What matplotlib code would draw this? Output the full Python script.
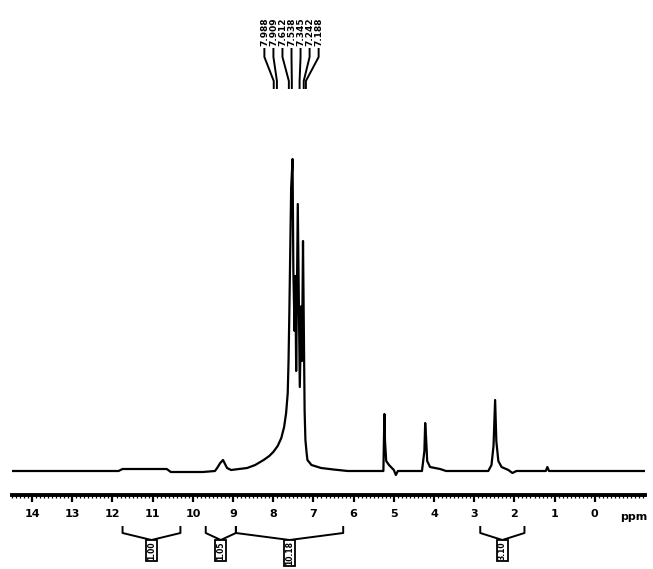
import numpy as np
import matplotlib.pyplot as plt

# Espectro trazado a mano: desplazamiento (ppm) y altura sobre la linea base
ppm = [14.50, 11.85, 11.75, 10.65, 10.55, 9.75, 9.45, 9.38, 9.32, 9.25, 9.20,
       9.15, 9.05, 8.65, 8.45, 8.24, 8.10, 8.00, 7.89, 7.80, 7.73, 7.68,
       7.64, 7.62, 7.60, 7.555, 7.52, 7.50, 7.47, 7.45, 7.43, 7.39, 7.34,
       7.30, 7.285, 7.26, 7.22, 7.20, 7.17, 7.15, 7.05, 6.81, 6.50, 6.15,
       5.26, 5.235, 5.22, 5.19, 5.12, 5.00, 4.95, 4.90, 4.30, 4.24, 4.22,
       4.20, 4.17, 4.10, 3.85, 3.70, 2.65, 2.57, 2.52, 2.48, 2.45, 2.40,
       2.32, 2.15, 2.05, 1.95, 1.22, 1.18, 1.14, -1.25]
intensity = [0, 0, 2, 2, -1, -1, 0, 4, 8, 11, 7,
             3, 1, 3, 6, 11, 15, 19, 25, 33, 44, 58,
             78, 110, 158, 283, 312, 200, 140, 195, 100, 267, 84,
             165, 110, 230, 60, 31, 18, 11, 6, 3, 1.5, 0,
             0, 57, 30, 10, 6, 1, -4, 0, 0, 20, 48,
             35, 10, 4, 2, 0, 0, 6, 25, 71, 30, 10,
             4, 1, -2, 0, 0, 4, 0, 0]

# Etiquetas de picos
peak_labels = ['7.988', '7.909', '7.612', '7.538', '7.345', '7.242', '7.188']
peak_ppm = [7.988, 7.909, 7.612, 7.538, 7.345, 7.242, 7.188]

# Integrales
integral_ranges = [(11.75, 10.31), (9.68, 8.93), (8.93, 6.26), (2.85, 1.75)]
integral_values = ['1.00', '1.05', '10.18', '3.10']

tick_values = list(range(14, -1, -1))

fig = plt.figure(figsize=(6.53, 5.69), dpi=100)
ax = fig.add_axes([0.0184, 74 / 569, 0.9694, 495 / 569])
ax.set_xlim(14.50, -1.25)
ax.set_ylim(-24, 471)

ax.plot(ppm, intensity, color='black', lw=1.6, solid_joinstyle='round')

# eje
for s in ['top', 'left', 'right']:
    ax.spines[s].set_visible(False)
ax.spines['bottom'].set_linewidth(2.8)
ax.set_yticks([])
ax.set_xticks(tick_values)
ax.set_xticklabels([str(t) for t in tick_values], fontsize=8, fontweight='bold')
ax.set_xticks(np.arange(-1.2, 14.55, 0.1), minor=True)
ax.tick_params(axis='x', which='major', length=5, width=1.6, pad=5)
ax.tick_params(axis='x', which='minor', length=2.5, width=0.9)
ax.text(-0.97, -24 - 17, 'ppm', ha='center', va='top', fontsize=8,
        fontweight='bold', clip_on=False)

# etiquetas de picos con lineas
center = np.mean(peak_ppm)
n = len(peak_labels)
lab_x = [center + (n - 1) / 2 * 0.225 - i * 0.225 for i in range(n)]
for xl, xp, lab in zip(lab_x, peak_ppm, peak_labels):
    ax.text(xl, 425, lab, rotation=90, ha='center', va='bottom',
            fontsize=6.5, fontweight='bold', clip_on=False)
    ax.plot([xl, xl, xp, xp], [422, 414, 390, 383], color='black', lw=1.4,
            clip_on=False)

# integrales
for (a, b), val in zip(integral_ranges, integral_values):
    c = (a + b) / 2
    ax.plot([a, a, c, b, b], [-56, -62, -69, -62, -56], color='black', lw=1.4,
            clip_on=False)
    ax.text(c, -70, val, rotation=90, ha='center', va='top', fontsize=5.5,
            fontweight='bold', clip_on=False,
            bbox=dict(boxstyle='square,pad=0.15', fc='white', ec='black', lw=1.3))

fig.savefig('out.png', dpi=100)
